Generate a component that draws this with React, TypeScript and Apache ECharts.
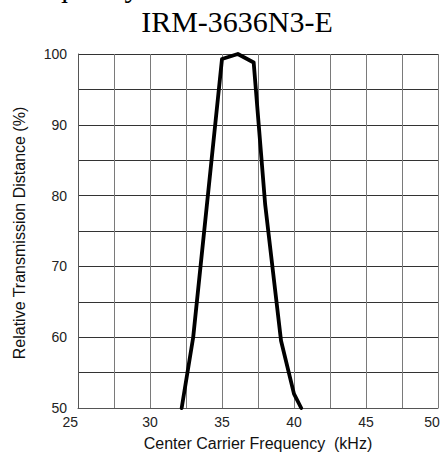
import React, { useEffect, useRef } from "react";
import * as echarts from "echarts";

const frequencies = [32.2, 33, 35, 36.1, 37.2, 38, 39.1, 40, 40.5];
const distances = [50, 60, 99.3, 100, 98.8, 78.7, 59.5, 52, 50];
const xTicks = [25, 30, 35, 40, 45, 50];
const yTicks = [50, 60, 70, 80, 90, 100];
const title = "IRM-3636N3-E";
const topTitle = "Frequency Characteristics";
const xName = "Center Carrier Frequency  (kHz)";
const yName = "Relative Transmission Distance (%)";

export default function App() {
  const ref = useRef<HTMLDivElement>(null);
  useEffect(() => {
    if (!ref.current) return;
    const chart = echarts.init(ref.current, null, { renderer: "svg" });
    const sans = "'Liberation Sans', Arial, sans-serif";
    const serif = "'Liberation Serif', 'Times New Roman', serif";
    chart.setOption({
      animation: false,
      backgroundColor: "#ffffff",
      grid: { left: 78, right: 8, top: 54, bottom: 52, containLabel: false },
      xAxis: {
        type: "value",
        min: 25,
        max: 50,
        interval: 2.5,
        axisLine: { show: true, lineStyle: { color: "#555", width: 1 } },
        axisTick: { show: false },
        splitLine: { show: true, lineStyle: { color: "#7a7a7a", width: 1 } },
        axisLabel: {
          margin: 7,
          color: "#222",
          fontFamily: sans,
          fontSize: 14,
          alignMinLabel: "right",
          formatter: (v: number) => {
            if (!xTicks.includes(v)) return "";
            if (v === xTicks[xTicks.length - 1]) return `{m|${v}}`;
            return String(v);
          },
          rich: {
            m: { fontFamily: sans, fontSize: 14, color: "#222", padding: [0, 12, 0, 0] },
          },
        },
      },
      yAxis: {
        type: "value",
        min: 50,
        max: 100,
        interval: 5,
        axisLine: { show: true, lineStyle: { color: "#555", width: 1 } },
        axisTick: { show: false },
        splitLine: { show: true, lineStyle: { color: "#333", width: 1 } },
        axisLabel: {
          margin: 11,
          color: "#222",
          fontFamily: sans,
          fontSize: 14,
          formatter: (v: number) => (yTicks.includes(v) ? String(v) : ""),
        },
      },
      series: [
        {
          type: "line",
          data: frequencies.map((f, i) => [f, distances[i]]),
          symbol: "none",
          lineStyle: { color: "#000", width: 3.8, join: "round", cap: "round" },
          clip: true,
        },
      ],
      graphic: [
        {
          type: "text",
          x: 13,
          y: -13.5,
          style: {
            text: topTitle,
            font: `30px ${serif}`,
            fill: "#000",
            textAlign: "left",
            textVerticalAlign: "middle",
          },
        },
        {
          type: "text",
          x: 237,
          y: 21,
          style: {
            text: title,
            font: `30px ${serif}`,
            fill: "#000",
            textAlign: "center",
            textVerticalAlign: "middle",
          },
        },
        {
          type: "text",
          x: 258,
          y: 443,
          style: {
            text: xName,
            font: `16px ${sans}`,
            fill: "#111",
            textAlign: "center",
            textVerticalAlign: "middle",
          },
        },
        {
          type: "text",
          x: 19,
          y: 233,
          rotation: Math.PI / 2,
          style: {
            text: yName,
            font: `16px ${sans}`,
            fill: "#111",
            textAlign: "center",
            textVerticalAlign: "middle",
          },
        },
      ],
    });
    return () => chart.dispose();
  }, []);
  return (
    <div
      ref={ref}
      style={{ position: "fixed", left: 0, top: 0, width: 446, height: 460 }}
    />
  );
}
